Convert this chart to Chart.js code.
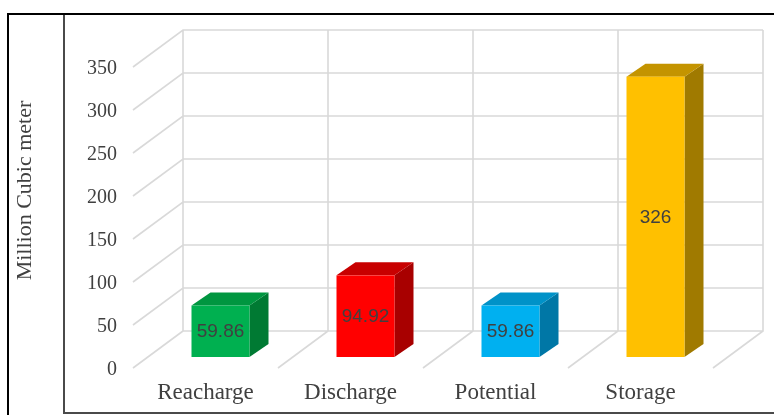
<!DOCTYPE html>
<html>
<head>
<meta charset="utf-8">
<script src="https://cdn.jsdelivr.net/npm/chart.js@4/dist/chart.umd.min.js"></script>
<style>
  html, body { margin: 0; padding: 0; background: #ffffff; }
  #wrap { width: 774px; height: 415px; }
</style>
</head>
<body>
<div id="wrap"><canvas id="c" width="774" height="415"></canvas></div>
<script>
// ---- data ----
const categories = ['Reacharge', 'Discharge', 'Potential', 'Storage'];
const values = [59.86, 94.92, 59.86, 326];
const valueLabels = ['59.86', '94.92', '59.86', '326'];
const yTitle = 'Million Cubic meter';
const yMin = 0, yMax = 350, yStep = 50;

// ---- styles ----
const frontColors = ['#00B050', '#FF0000', '#00B0F0', '#FFC000'];
const topColors   = ['#009640', '#C80000', '#0092C8', '#C49400'];
const sideColors  = ['#007A33', '#A80000', '#0077A6', '#A07A00'];
const DEPTH = { dx: 50, dy: -37 };           // floor/wall depth vector
const BAR_FRONT = { dx: 15, dy: -11 };       // bar front face depth
const BAR_BACK  = { dx: 34, dy: -24 };       // bar back face depth
const GRID_COLOR = '#D9D9D9';
const TEXT_COLOR = '#404040';

const framePlugin = {
  id: 'frame',
  beforeDraw(chart) {
    const ctx = chart.ctx;
    ctx.save();
    ctx.fillStyle = '#ffffff';
    ctx.fillRect(0, 0, chart.width, chart.height);
    // outer black frame
    ctx.fillStyle = '#000000';
    ctx.fillRect(7, 13, 767, 2);
    ctx.fillRect(7, 13, 2, 402);
    // inner gray frame
    ctx.fillStyle = '#4a4a4a';
    ctx.fillRect(63, 15, 2, 399);
    ctx.fillRect(63, 412, 711, 2);
    // y title
    ctx.translate(31, 190.5);
    ctx.rotate(-Math.PI / 2);
    ctx.fillStyle = TEXT_COLOR;
    ctx.font = '22px "Liberation Serif", "Times New Roman", serif';
    ctx.textAlign = 'center';
    ctx.textBaseline = 'alphabetic';
    ctx.fillText(yTitle, 0, 0);
    ctx.restore();
  }
};

const gridPlugin = {
  id: 'grid3d',
  beforeDatasetsDraw(chart) {
    const ctx = chart.ctx;
    const xs = chart.scales.x, ys = chart.scales.y;
    const area = chart.chartArea;
    const n = categories.length;
    const bw = (area.right - area.left) / n;
    const y0 = ys.getPixelForValue(yMin);
    const yTop = ys.getPixelForValue(yMax);
    ctx.save();
    ctx.strokeStyle = GRID_COLOR;
    ctx.lineWidth = 1.6;
    ctx.beginPath();
    // left wall diagonals + back wall horizontals
    ys.ticks.forEach(t => {
      const y = ys.getPixelForValue(t.value);
      ctx.moveTo(area.left, y);
      ctx.lineTo(area.left + DEPTH.dx, y + DEPTH.dy);
      ctx.lineTo(area.right + DEPTH.dx, y + DEPTH.dy);
    });
    // category boundaries: floor diagonals + back wall verticals
    for (let i = 0; i <= n; i++) {
      const xb = xs.getPixelForValue(0) - bw / 2 + i * bw;
      ctx.moveTo(xb, y0);
      ctx.lineTo(xb + DEPTH.dx, y0 + DEPTH.dy);
      ctx.lineTo(xb + DEPTH.dx, yTop + DEPTH.dy);
    }
    ctx.stroke();
    ctx.restore();
  }
};

const bars3dPlugin = {
  id: 'bars3d',
  afterDatasetsDraw(chart) {
    const ctx = chart.ctx;
    const meta = chart.getDatasetMeta(0);
    ctx.save();
    meta.data.forEach((el, i) => {
      const p = el.getProps(['x', 'y', 'base', 'width'], true);
      const xl = p.x - p.width / 2, xr = p.x + p.width / 2;
      const yt = p.y, yb = p.base;
      const F = BAR_FRONT, B = BAR_BACK;
      // side face
      ctx.fillStyle = sideColors[i];
      ctx.beginPath();
      ctx.moveTo(xr + F.dx, yt + F.dy);
      ctx.lineTo(xr + B.dx, yt + B.dy);
      ctx.lineTo(xr + B.dx, yb + B.dy);
      ctx.lineTo(xr + F.dx, yb + F.dy);
      ctx.closePath();
      ctx.fill();
      // top face
      ctx.fillStyle = topColors[i];
      ctx.beginPath();
      ctx.moveTo(xl + F.dx, yt + F.dy);
      ctx.lineTo(xr + F.dx, yt + F.dy);
      ctx.lineTo(xr + B.dx, yt + B.dy);
      ctx.lineTo(xl + B.dx, yt + B.dy);
      ctx.closePath();
      ctx.fill();
      // front face
      ctx.fillStyle = frontColors[i];
      ctx.fillRect(xl + F.dx, yt + F.dy, xr - xl, yb - yt);
      // value label
      ctx.fillStyle = TEXT_COLOR;
      ctx.font = '19px "Liberation Sans", Arial, sans-serif';
      ctx.textAlign = 'center';
      ctx.textBaseline = 'middle';
      ctx.fillText(valueLabels[i], p.x + F.dx, (yt + yb) / 2 + F.dy + 1);
    });
    ctx.restore();
  }
};

new Chart(document.getElementById('c'), {
  type: 'bar',
  data: {
    labels: categories,
    datasets: [{
      data: values,
      backgroundColor: 'rgba(0,0,0,0)',
      borderWidth: 0,
      barPercentage: 0.4,
      categoryPercentage: 1.0
    }]
  },
  options: {
    responsive: false,
    devicePixelRatio: 1,
    animation: false,
    layout: { padding: { left: 0, right: 61, top: 67, bottom: 0 } },
    plugins: { legend: { display: false }, tooltip: { enabled: false } },
    scales: {
      x: {
        offset: true,
        grid: { display: false, drawTicks: false },
        border: { display: false },
        ticks: {
          color: TEXT_COLOR,
          padding: 11,
          maxRotation: 0,
          font: { family: '"Liberation Serif", "Times New Roman", serif', size: 23 }
        },
        afterFit(scale) { scale.height = 47; }
      },
      y: {
        min: yMin, max: yMax,
        grid: { display: false, drawTicks: false },
        border: { display: false },
        ticks: {
          stepSize: yStep,
          color: TEXT_COLOR,
          padding: 16,
          labelOffset: 1.5,
          font: { family: '"Liberation Serif", "Times New Roman", serif', size: 20 }
        },
        afterFit(scale) { scale.width = 133; }
      }
    }
  },
  plugins: [framePlugin, gridPlugin, bars3dPlugin]
});
</script>
</body>
</html>
